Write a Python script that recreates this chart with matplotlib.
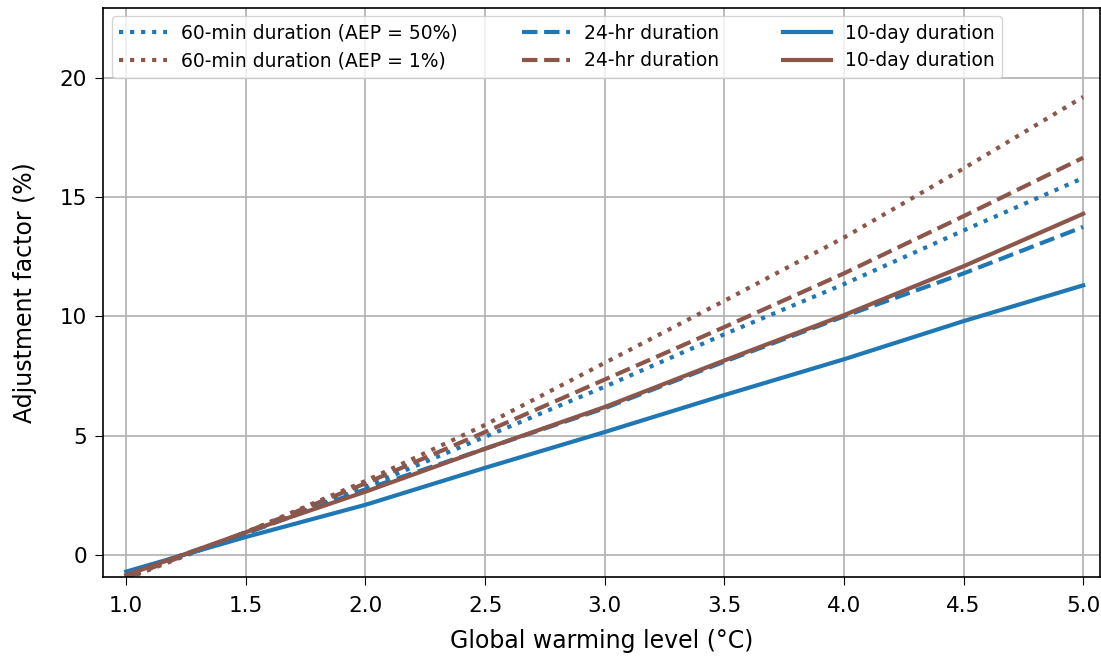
import numpy as np
import matplotlib
matplotlib.use("Agg")
import matplotlib.pyplot as plt

# ─── Data ─────────────────────────────────────────────────────────────────────
gwl = [1.0, 1.5, 2.0, 2.5, 3.0, 3.5, 4.0, 4.5, 5.0]

min60_aep50 = [-0.8, 0.9, 2.85, 4.95, 7.05, 9.25, 11.35, 13.6, 15.8]
min60_aep1  = [-1.0, 0.95, 3.1, 5.45, 8.05, 10.65, 13.3, 16.2, 19.2]
hr24_aep50  = [-0.8, 0.9, 2.75, 4.45, 6.15, 8.1, 10.0, 11.8, 13.75]
hr24_aep1   = [-0.95, 0.95, 3.0, 5.15, 7.35, 9.55, 11.8, 14.2, 16.65]
day10_aep50 = [-0.7, 0.75, 2.1, 3.65, 5.15, 6.7, 8.2, 9.8, 11.3]
day10_aep1  = [-0.85, 0.95, 2.65, 4.45, 6.2, 8.15, 10.05, 12.1, 14.3]

BLUE  = "#1f77b4"
BROWN = "#8c564b"
LW = 3.0

fig, ax = plt.subplots(figsize=(11.01, 6.60), dpi=100)
fig.subplots_adjust(left=0.094, right=0.999, top=0.988, bottom=0.126)

ax.plot(gwl, min60_aep50, color=BLUE,  ls=":",  lw=LW, label="60-min duration (AEP = 50%)")
ax.plot(gwl, min60_aep1,  color=BROWN, ls=":",  lw=LW, label="60-min duration (AEP = 1%)")
ax.plot(gwl, hr24_aep50,  color=BLUE,  ls="--", lw=LW, label="24-hr duration")
ax.plot(gwl, hr24_aep1,   color=BROWN, ls="--", lw=LW, label="24-hr duration")
ax.plot(gwl, day10_aep50, color=BLUE,  ls="-",  lw=LW, label="10-day duration")
ax.plot(gwl, day10_aep1,  color=BROWN, ls="-",  lw=LW, label="10-day duration")

ax.set_xlim(0.905, 5.07)
ax.set_ylim(-0.92, 22.93)
ax.set_xticks([1.0, 1.5, 2.0, 2.5, 3.0, 3.5, 4.0, 4.5, 5.0])
ax.set_yticks([0, 5, 10, 15, 20])
ax.tick_params(labelsize=15.5, length=6, pad=6)
ax.tick_params(axis="x", pad=8)
ax.grid(True, color="#b0b0b0", lw=1.2)
ax.set_axisbelow(True)
for s in ax.spines.values():
    s.set_linewidth(1.2)

ax.set_xlabel("Global warming level (°C)", fontsize=17, labelpad=9)
ax.set_ylabel("Adjustment factor (%)", fontsize=17, labelpad=16)

ax.legend(loc="upper left", ncol=3, fontsize=13.5, framealpha=0.8,
          handlelength=2.56, handletextpad=0.75, columnspacing=3.4,
          labelspacing=0.45, borderaxespad=0.45)

fig.savefig("out.png", dpi=100)
